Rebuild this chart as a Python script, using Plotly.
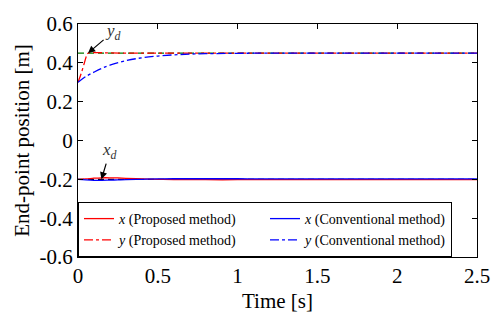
import plotly.graph_objects as go

# time samples (s)
t_fast = [0, 0.01, 0.02, 0.03, 0.04, 0.05, 0.06, 0.08, 0.1, 0.15, 0.2, 0.3, 0.5, 1.0, 1.5, 2.0, 2.5]
t_slow = [0, 0.05, 0.1, 0.15, 0.2, 0.3, 0.4, 0.5, 0.6, 0.7, 0.8, 1.0, 1.2, 1.5, 2.0, 2.5]
t_x = [0, 0.05, 0.1, 0.15, 0.2, 0.25, 0.3, 0.4, 0.5, 0.6, 0.8, 1.0, 1.2, 1.5, 2.0, 2.5]

# y (proposed)
y_prop = [0.300, 0.322, 0.345, 0.372, 0.400, 0.428, 0.448, 0.453, 0.453, 0.452, 0.451, 0.450, 0.450, 0.450, 0.450, 0.450, 0.450]
# y (conventional)
y_conv = [0.300, 0.330, 0.352, 0.372, 0.388, 0.411, 0.426, 0.435, 0.441, 0.445, 0.447, 0.449, 0.450, 0.450, 0.450, 0.450]
# x (proposed)
x_prop = [-0.200, -0.198, -0.194, -0.192, -0.192, -0.193, -0.195, -0.198, -0.200, -0.201, -0.202, -0.202, -0.201, -0.201, -0.201, -0.201]
# x (conventional)
x_conv = [-0.200, -0.203, -0.205, -0.205, -0.204, -0.203, -0.202, -0.200, -0.198, -0.197, -0.197, -0.197, -0.198, -0.198, -0.198, -0.198]

t_ref = [0, 2.5]
yd = [0.45, 0.45]
xd = [-0.2, -0.2]

y_ticks = [0.6, 0.4, 0.2, 0, -0.2, -0.4, -0.6]
y_ticktext = ["0.6", "0.4", "0.2", "0", "-0.2", "-0.4", "-0.6"]
x_ticks = [0, 0.5, 1, 1.5, 2, 2.5]
x_ticktext = ["0", "0.5", "1", "1.5", "2", "2.5"]

FONT = "Liberation Serif"
RED = "#ff0000"
BLUE = "#0000ff"

fig = go.Figure()
fig.add_trace(go.Scatter(x=t_ref, y=yd, mode="lines", line=dict(color="#007a00", width=1.3, dash="6px,4px"), showlegend=False))
fig.add_trace(go.Scatter(x=t_ref, y=xd, mode="lines", line=dict(color="black", width=1.3, dash="6px,4px"), showlegend=False))

fig.add_trace(go.Scatter(x=t_x, y=x_prop, mode="lines", line=dict(color=RED, width=1.3, shape="spline"),
                         name="<i>x</i> (Proposed method)"))
fig.add_trace(go.Scatter(x=t_x, y=x_conv, mode="lines", line=dict(color=BLUE, width=1.3, shape="spline"),
                         name="<i>x</i> (Conventional method)"))
fig.add_trace(go.Scatter(x=t_fast, y=y_prop, mode="lines", line=dict(color=RED, width=1.3, dash="dashdot", shape="spline"),
                         name="<i>y</i> (Proposed method)"))
fig.add_trace(go.Scatter(x=t_slow, y=y_conv, mode="lines", line=dict(color=BLUE, width=1.3, dash="dashdot", shape="spline"),
                         name="<i>y</i> (Conventional method)"))

fig.add_annotation(x=0.063, y=0.45, ax=0.22, ay=0.56, axref="x", ayref="y",
                   text="<i>y<sub>d</sub></i>", showarrow=True, arrowhead=2, arrowsize=1.2,
                   arrowwidth=1.2, arrowcolor="black", font=dict(family=FONT, size=17, color="#333"))
fig.add_annotation(x=0.147, y=-0.2, ax=0.2, ay=-0.055, axref="x", ayref="y",
                   text="<i>x<sub>d</sub></i>", showarrow=True, arrowhead=2, arrowsize=1.2,
                   arrowwidth=1.2, arrowcolor="black", font=dict(family=FONT, size=17, color="#333"))

axis_common = dict(showline=True, linecolor="black", linewidth=1, mirror="ticks", ticks="inside",
                   ticklen=5, tickcolor="black", showgrid=False, zeroline=False,
                   tickfont=dict(family=FONT, size=21, color="black"))

fig.update_layout(
    width=502, height=321,
    margin=dict(l=78, r=17, t=16, b=63),
    plot_bgcolor="white", paper_bgcolor="white",
    font=dict(family=FONT, color="black"),
    xaxis=dict(range=[0, 2.5], tickvals=x_ticks, ticktext=x_ticktext,
               title=dict(text="Time [s]", font=dict(family=FONT, size=21, color="black"), standoff=6),
               **axis_common),
    yaxis=dict(range=[-0.6, 0.6], tickvals=y_ticks, ticktext=y_ticktext,
               title=dict(text="End-point position [m]", font=dict(family=FONT, size=21, color="black"), standoff=4),
               **axis_common),
    legend=dict(orientation="h", x=0, xanchor="left", y=0, yanchor="bottom",
                entrywidth=141, bordercolor="black", borderwidth=1, bgcolor="white",
                font=dict(family=FONT, size=14, color="black"), tracegroupgap=0,
                itemwidth=30),
    showlegend=True,
)

fig.write_html("out.html")
